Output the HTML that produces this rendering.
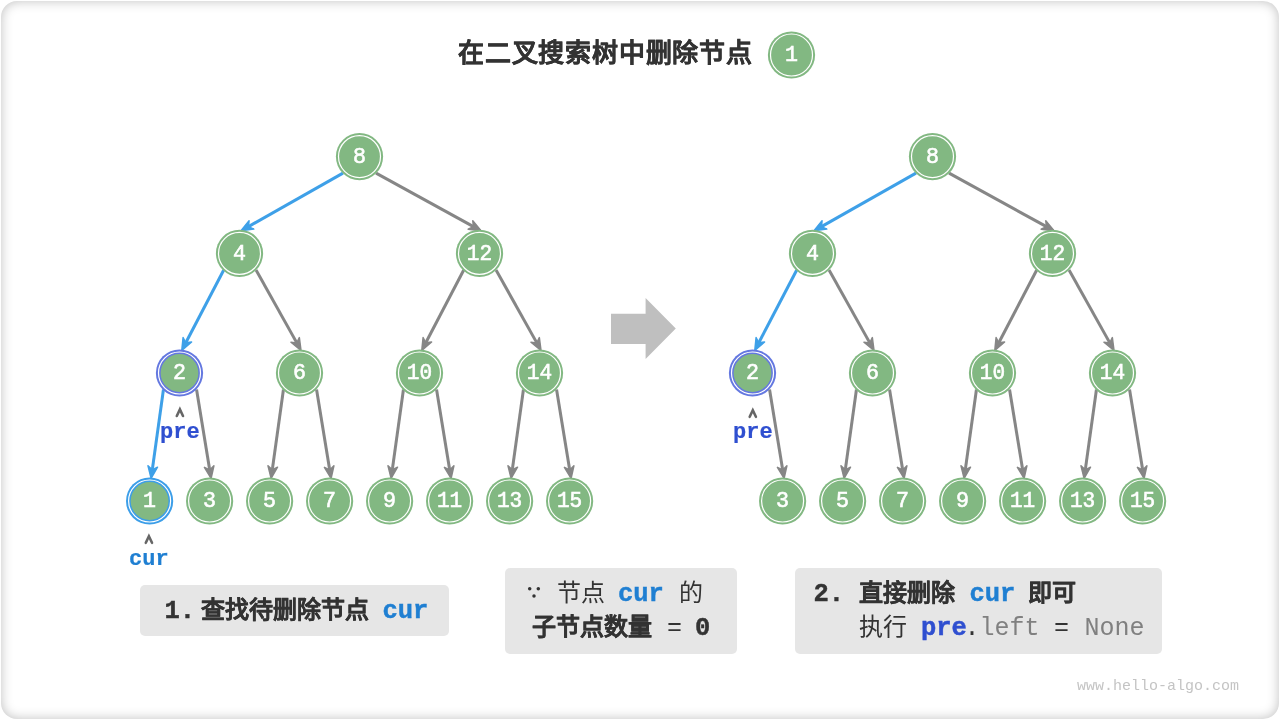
<!DOCTYPE html>
<html lang="zh-CN"><head><meta charset="utf-8"><style>
html,body{margin:0;padding:0;background:#fff;}
body{width:1280px;height:720px;position:relative;overflow:hidden;}
.card{position:absolute;left:1px;top:1px;width:1277.5px;height:717.5px;border-radius:16px;box-shadow:inset 0 0 12px rgba(0,0,0,0.25);background:#fff;}
svg{position:absolute;left:0;top:0;will-change:transform;}
text{white-space:pre;}
.nl{font-family:"Liberation Mono",monospace;font-size:22px;fill:#fff;stroke:#fff;stroke-width:0.6px;text-anchor:middle;}
.mb{font-family:"Liberation Mono",monospace;font-size:25.5px;font-weight:bold;}
.mr{font-family:"Liberation Mono",monospace;font-size:25px;}
.ml{font-family:"Liberation Mono",monospace;font-size:22px;font-weight:bold;}
.wm{font-family:"Liberation Mono",monospace;font-size:15px;}
.cb{font-family:"Liberation Sans",sans-serif;font-size:24px;font-weight:bold;stroke:#333;stroke-width:0.25px;}
.cr{font-family:"Liberation Sans",sans-serif;font-size:24px;}
.title{font-family:"Liberation Sans",sans-serif;font-size:26px;letter-spacing:0.8px;font-weight:bold;stroke:#333;stroke-width:0.3px;}
.box{position:absolute;background:#e6e6e6;border-radius:5px;}
</style></head><body>
<div class="card"></div>
<div class="box" style="left:140px;top:585px;width:309px;height:50.5px"></div>
<div class="box" style="left:505px;top:568px;width:232px;height:85.5px"></div>
<div class="box" style="left:795px;top:568px;width:367px;height:85.5px"></div>
<svg width="1280" height="720" viewBox="0 0 1280 720">
<line x1="342.95" y1="173.15" x2="248.49" y2="226.57" stroke="#3ea0e8" stroke-width="3"/>
<path d="M241.00,230.80 L249.08,220.72 L248.49,226.57 L253.81,229.07 Z" fill="#3ea0e8" stroke="#3ea0e8" stroke-width="1.5" stroke-linejoin="round"/>
<line x1="376.05" y1="173.15" x2="473.46" y2="226.66" stroke="#868686" stroke-width="3"/>
<path d="M481.00,230.80 L468.17,229.23 L473.46,226.66 L472.79,220.82 Z" fill="#868686" stroke="#868686" stroke-width="1.5" stroke-linejoin="round"/>
<line x1="223.75" y1="269.95" x2="185.78" y2="342.77" stroke="#3ea0e8" stroke-width="3"/>
<path d="M181.80,350.40 L183.09,337.54 L185.78,342.77 L191.60,341.98 Z" fill="#3ea0e8" stroke="#3ea0e8" stroke-width="1.5" stroke-linejoin="round"/>
<line x1="256.05" y1="269.95" x2="296.81" y2="342.89" stroke="#868686" stroke-width="3"/>
<path d="M301.00,350.40 L290.96,342.27 L296.81,342.89 L299.34,337.58 Z" fill="#868686" stroke="#868686" stroke-width="1.5" stroke-linejoin="round"/>
<line x1="463.75" y1="269.95" x2="425.78" y2="342.77" stroke="#868686" stroke-width="3"/>
<path d="M421.80,350.40 L423.09,337.54 L425.78,342.77 L431.60,341.98 Z" fill="#868686" stroke="#868686" stroke-width="1.5" stroke-linejoin="round"/>
<line x1="496.05" y1="269.95" x2="536.81" y2="342.89" stroke="#868686" stroke-width="3"/>
<path d="M541.00,350.40 L530.96,342.27 L536.81,342.89 L539.34,337.58 Z" fill="#868686" stroke="#868686" stroke-width="1.5" stroke-linejoin="round"/>
<line x1="163.45" y1="389.55" x2="152.28" y2="469.88" stroke="#3ea0e8" stroke-width="3"/>
<path d="M151.10,478.40 L148.00,465.85 L152.28,469.88 L157.51,467.18 Z" fill="#3ea0e8" stroke="#3ea0e8" stroke-width="1.5" stroke-linejoin="round"/>
<line x1="196.55" y1="389.55" x2="209.71" y2="469.91" stroke="#868686" stroke-width="3"/>
<path d="M211.10,478.40 L204.42,467.33 L209.71,469.91 L213.90,465.78 Z" fill="#868686" stroke="#868686" stroke-width="1.5" stroke-linejoin="round"/>
<line x1="283.45" y1="389.55" x2="272.28" y2="469.88" stroke="#868686" stroke-width="3"/>
<path d="M271.10,478.40 L268.00,465.85 L272.28,469.88 L277.51,467.18 Z" fill="#868686" stroke="#868686" stroke-width="1.5" stroke-linejoin="round"/>
<line x1="316.55" y1="389.55" x2="329.71" y2="469.91" stroke="#868686" stroke-width="3"/>
<path d="M331.10,478.40 L324.42,467.33 L329.71,469.91 L333.90,465.78 Z" fill="#868686" stroke="#868686" stroke-width="1.5" stroke-linejoin="round"/>
<line x1="403.45" y1="389.55" x2="392.28" y2="469.88" stroke="#868686" stroke-width="3"/>
<path d="M391.10,478.40 L388.00,465.85 L392.28,469.88 L397.51,467.18 Z" fill="#868686" stroke="#868686" stroke-width="1.5" stroke-linejoin="round"/>
<line x1="436.55" y1="389.55" x2="449.71" y2="469.91" stroke="#868686" stroke-width="3"/>
<path d="M451.10,478.40 L444.42,467.33 L449.71,469.91 L453.90,465.78 Z" fill="#868686" stroke="#868686" stroke-width="1.5" stroke-linejoin="round"/>
<line x1="523.45" y1="389.55" x2="512.28" y2="469.88" stroke="#868686" stroke-width="3"/>
<path d="M511.10,478.40 L508.00,465.85 L512.28,469.88 L517.51,467.18 Z" fill="#868686" stroke="#868686" stroke-width="1.5" stroke-linejoin="round"/>
<line x1="556.55" y1="389.55" x2="569.71" y2="469.91" stroke="#868686" stroke-width="3"/>
<path d="M571.10,478.40 L564.42,467.33 L569.71,469.91 L573.90,465.78 Z" fill="#868686" stroke="#868686" stroke-width="1.5" stroke-linejoin="round"/>
<circle cx="359.5" cy="156.6" r="23.6" fill="#82b882"/>
<circle cx="359.5" cy="156.6" r="21.0" fill="none" stroke="#fff" stroke-width="1.2"/>
<text x="359.5" y="163.10" class="nl" textLength="13.0" lengthAdjust="spacingAndGlyphs">8</text>
<circle cx="239.5" cy="253.4" r="23.6" fill="#82b882"/>
<circle cx="239.5" cy="253.4" r="21.0" fill="none" stroke="#fff" stroke-width="1.2"/>
<text x="239.5" y="259.90" class="nl" textLength="13.0" lengthAdjust="spacingAndGlyphs">4</text>
<circle cx="479.5" cy="253.4" r="23.6" fill="#82b882"/>
<circle cx="479.5" cy="253.4" r="21.0" fill="none" stroke="#fff" stroke-width="1.2"/>
<text x="479.5" y="259.90" class="nl" textLength="25.3" lengthAdjust="spacingAndGlyphs">12</text>
<circle cx="179.5" cy="373.0" r="23.6" fill="#6478e0"/>
<circle cx="179.5" cy="373.0" r="21.0" fill="none" stroke="#fff" stroke-width="1.2"/>
<circle cx="179.5" cy="373.0" r="18.9" fill="#82b882"/>
<text x="179.5" y="378.90" class="nl" textLength="13.0" lengthAdjust="spacingAndGlyphs">2</text>
<circle cx="299.5" cy="373.0" r="23.6" fill="#82b882"/>
<circle cx="299.5" cy="373.0" r="21.0" fill="none" stroke="#fff" stroke-width="1.2"/>
<text x="299.5" y="378.90" class="nl" textLength="13.0" lengthAdjust="spacingAndGlyphs">6</text>
<circle cx="419.5" cy="373.0" r="23.6" fill="#82b882"/>
<circle cx="419.5" cy="373.0" r="21.0" fill="none" stroke="#fff" stroke-width="1.2"/>
<text x="419.5" y="378.90" class="nl" textLength="25.3" lengthAdjust="spacingAndGlyphs">10</text>
<circle cx="539.5" cy="373.0" r="23.6" fill="#82b882"/>
<circle cx="539.5" cy="373.0" r="21.0" fill="none" stroke="#fff" stroke-width="1.2"/>
<text x="539.5" y="378.90" class="nl" textLength="25.3" lengthAdjust="spacingAndGlyphs">14</text>
<circle cx="149.6" cy="501.0" r="23.6" fill="#3c9ee8"/>
<circle cx="149.6" cy="501.0" r="21.0" fill="none" stroke="#fff" stroke-width="1.2"/>
<circle cx="149.6" cy="501.0" r="18.9" fill="#82b882"/>
<text x="149.6" y="506.90" class="nl" textLength="13.0" lengthAdjust="spacingAndGlyphs">1</text>
<circle cx="209.6" cy="501.0" r="23.6" fill="#82b882"/>
<circle cx="209.6" cy="501.0" r="21.0" fill="none" stroke="#fff" stroke-width="1.2"/>
<text x="209.6" y="506.90" class="nl" textLength="13.0" lengthAdjust="spacingAndGlyphs">3</text>
<circle cx="269.6" cy="501.0" r="23.6" fill="#82b882"/>
<circle cx="269.6" cy="501.0" r="21.0" fill="none" stroke="#fff" stroke-width="1.2"/>
<text x="269.6" y="506.90" class="nl" textLength="13.0" lengthAdjust="spacingAndGlyphs">5</text>
<circle cx="329.6" cy="501.0" r="23.6" fill="#82b882"/>
<circle cx="329.6" cy="501.0" r="21.0" fill="none" stroke="#fff" stroke-width="1.2"/>
<text x="329.6" y="506.90" class="nl" textLength="13.0" lengthAdjust="spacingAndGlyphs">7</text>
<circle cx="389.6" cy="501.0" r="23.6" fill="#82b882"/>
<circle cx="389.6" cy="501.0" r="21.0" fill="none" stroke="#fff" stroke-width="1.2"/>
<text x="389.6" y="506.90" class="nl" textLength="13.0" lengthAdjust="spacingAndGlyphs">9</text>
<circle cx="449.6" cy="501.0" r="23.6" fill="#82b882"/>
<circle cx="449.6" cy="501.0" r="21.0" fill="none" stroke="#fff" stroke-width="1.2"/>
<text x="449.6" y="506.90" class="nl" textLength="25.3" lengthAdjust="spacingAndGlyphs">11</text>
<circle cx="509.6" cy="501.0" r="23.6" fill="#82b882"/>
<circle cx="509.6" cy="501.0" r="21.0" fill="none" stroke="#fff" stroke-width="1.2"/>
<text x="509.6" y="506.90" class="nl" textLength="25.3" lengthAdjust="spacingAndGlyphs">13</text>
<circle cx="569.6" cy="501.0" r="23.6" fill="#82b882"/>
<circle cx="569.6" cy="501.0" r="21.0" fill="none" stroke="#fff" stroke-width="1.2"/>
<text x="569.6" y="506.90" class="nl" textLength="25.3" lengthAdjust="spacingAndGlyphs">15</text>
<line x1="915.95" y1="173.15" x2="821.49" y2="226.57" stroke="#3ea0e8" stroke-width="3"/>
<path d="M814.00,230.80 L822.08,220.72 L821.49,226.57 L826.81,229.07 Z" fill="#3ea0e8" stroke="#3ea0e8" stroke-width="1.5" stroke-linejoin="round"/>
<line x1="949.05" y1="173.15" x2="1046.46" y2="226.66" stroke="#868686" stroke-width="3"/>
<path d="M1054.00,230.80 L1041.17,229.23 L1046.46,226.66 L1045.79,220.82 Z" fill="#868686" stroke="#868686" stroke-width="1.5" stroke-linejoin="round"/>
<line x1="796.75" y1="269.95" x2="758.78" y2="342.77" stroke="#3ea0e8" stroke-width="3"/>
<path d="M754.80,350.40 L756.09,337.54 L758.78,342.77 L764.60,341.98 Z" fill="#3ea0e8" stroke="#3ea0e8" stroke-width="1.5" stroke-linejoin="round"/>
<line x1="829.05" y1="269.95" x2="869.81" y2="342.89" stroke="#868686" stroke-width="3"/>
<path d="M874.00,350.40 L863.96,342.27 L869.81,342.89 L872.34,337.58 Z" fill="#868686" stroke="#868686" stroke-width="1.5" stroke-linejoin="round"/>
<line x1="1036.75" y1="269.95" x2="998.78" y2="342.77" stroke="#868686" stroke-width="3"/>
<path d="M994.80,350.40 L996.09,337.54 L998.78,342.77 L1004.60,341.98 Z" fill="#868686" stroke="#868686" stroke-width="1.5" stroke-linejoin="round"/>
<line x1="1069.05" y1="269.95" x2="1109.81" y2="342.89" stroke="#868686" stroke-width="3"/>
<path d="M1114.00,350.40 L1103.96,342.27 L1109.81,342.89 L1112.34,337.58 Z" fill="#868686" stroke="#868686" stroke-width="1.5" stroke-linejoin="round"/>
<line x1="769.55" y1="389.55" x2="782.71" y2="469.91" stroke="#868686" stroke-width="3"/>
<path d="M784.10,478.40 L777.42,467.33 L782.71,469.91 L786.90,465.78 Z" fill="#868686" stroke="#868686" stroke-width="1.5" stroke-linejoin="round"/>
<line x1="856.45" y1="389.55" x2="845.28" y2="469.88" stroke="#868686" stroke-width="3"/>
<path d="M844.10,478.40 L841.00,465.85 L845.28,469.88 L850.51,467.18 Z" fill="#868686" stroke="#868686" stroke-width="1.5" stroke-linejoin="round"/>
<line x1="889.55" y1="389.55" x2="902.71" y2="469.91" stroke="#868686" stroke-width="3"/>
<path d="M904.10,478.40 L897.42,467.33 L902.71,469.91 L906.90,465.78 Z" fill="#868686" stroke="#868686" stroke-width="1.5" stroke-linejoin="round"/>
<line x1="976.45" y1="389.55" x2="965.28" y2="469.88" stroke="#868686" stroke-width="3"/>
<path d="M964.10,478.40 L961.00,465.85 L965.28,469.88 L970.51,467.18 Z" fill="#868686" stroke="#868686" stroke-width="1.5" stroke-linejoin="round"/>
<line x1="1009.55" y1="389.55" x2="1022.71" y2="469.91" stroke="#868686" stroke-width="3"/>
<path d="M1024.10,478.40 L1017.42,467.33 L1022.71,469.91 L1026.90,465.78 Z" fill="#868686" stroke="#868686" stroke-width="1.5" stroke-linejoin="round"/>
<line x1="1096.45" y1="389.55" x2="1085.28" y2="469.88" stroke="#868686" stroke-width="3"/>
<path d="M1084.10,478.40 L1081.00,465.85 L1085.28,469.88 L1090.51,467.18 Z" fill="#868686" stroke="#868686" stroke-width="1.5" stroke-linejoin="round"/>
<line x1="1129.55" y1="389.55" x2="1142.71" y2="469.91" stroke="#868686" stroke-width="3"/>
<path d="M1144.10,478.40 L1137.42,467.33 L1142.71,469.91 L1146.90,465.78 Z" fill="#868686" stroke="#868686" stroke-width="1.5" stroke-linejoin="round"/>
<circle cx="932.5" cy="156.6" r="23.6" fill="#82b882"/>
<circle cx="932.5" cy="156.6" r="21.0" fill="none" stroke="#fff" stroke-width="1.2"/>
<text x="932.5" y="163.10" class="nl" textLength="13.0" lengthAdjust="spacingAndGlyphs">8</text>
<circle cx="812.5" cy="253.4" r="23.6" fill="#82b882"/>
<circle cx="812.5" cy="253.4" r="21.0" fill="none" stroke="#fff" stroke-width="1.2"/>
<text x="812.5" y="259.90" class="nl" textLength="13.0" lengthAdjust="spacingAndGlyphs">4</text>
<circle cx="1052.5" cy="253.4" r="23.6" fill="#82b882"/>
<circle cx="1052.5" cy="253.4" r="21.0" fill="none" stroke="#fff" stroke-width="1.2"/>
<text x="1052.5" y="259.90" class="nl" textLength="25.3" lengthAdjust="spacingAndGlyphs">12</text>
<circle cx="752.5" cy="373.0" r="23.6" fill="#6478e0"/>
<circle cx="752.5" cy="373.0" r="21.0" fill="none" stroke="#fff" stroke-width="1.2"/>
<circle cx="752.5" cy="373.0" r="18.9" fill="#82b882"/>
<text x="752.5" y="378.90" class="nl" textLength="13.0" lengthAdjust="spacingAndGlyphs">2</text>
<circle cx="872.5" cy="373.0" r="23.6" fill="#82b882"/>
<circle cx="872.5" cy="373.0" r="21.0" fill="none" stroke="#fff" stroke-width="1.2"/>
<text x="872.5" y="378.90" class="nl" textLength="13.0" lengthAdjust="spacingAndGlyphs">6</text>
<circle cx="992.5" cy="373.0" r="23.6" fill="#82b882"/>
<circle cx="992.5" cy="373.0" r="21.0" fill="none" stroke="#fff" stroke-width="1.2"/>
<text x="992.5" y="378.90" class="nl" textLength="25.3" lengthAdjust="spacingAndGlyphs">10</text>
<circle cx="1112.5" cy="373.0" r="23.6" fill="#82b882"/>
<circle cx="1112.5" cy="373.0" r="21.0" fill="none" stroke="#fff" stroke-width="1.2"/>
<text x="1112.5" y="378.90" class="nl" textLength="25.3" lengthAdjust="spacingAndGlyphs">14</text>
<circle cx="782.6" cy="501.0" r="23.6" fill="#82b882"/>
<circle cx="782.6" cy="501.0" r="21.0" fill="none" stroke="#fff" stroke-width="1.2"/>
<text x="782.6" y="506.90" class="nl" textLength="13.0" lengthAdjust="spacingAndGlyphs">3</text>
<circle cx="842.6" cy="501.0" r="23.6" fill="#82b882"/>
<circle cx="842.6" cy="501.0" r="21.0" fill="none" stroke="#fff" stroke-width="1.2"/>
<text x="842.6" y="506.90" class="nl" textLength="13.0" lengthAdjust="spacingAndGlyphs">5</text>
<circle cx="902.6" cy="501.0" r="23.6" fill="#82b882"/>
<circle cx="902.6" cy="501.0" r="21.0" fill="none" stroke="#fff" stroke-width="1.2"/>
<text x="902.6" y="506.90" class="nl" textLength="13.0" lengthAdjust="spacingAndGlyphs">7</text>
<circle cx="962.6" cy="501.0" r="23.6" fill="#82b882"/>
<circle cx="962.6" cy="501.0" r="21.0" fill="none" stroke="#fff" stroke-width="1.2"/>
<text x="962.6" y="506.90" class="nl" textLength="13.0" lengthAdjust="spacingAndGlyphs">9</text>
<circle cx="1022.6" cy="501.0" r="23.6" fill="#82b882"/>
<circle cx="1022.6" cy="501.0" r="21.0" fill="none" stroke="#fff" stroke-width="1.2"/>
<text x="1022.6" y="506.90" class="nl" textLength="25.3" lengthAdjust="spacingAndGlyphs">11</text>
<circle cx="1082.6" cy="501.0" r="23.6" fill="#82b882"/>
<circle cx="1082.6" cy="501.0" r="21.0" fill="none" stroke="#fff" stroke-width="1.2"/>
<text x="1082.6" y="506.90" class="nl" textLength="25.3" lengthAdjust="spacingAndGlyphs">13</text>
<circle cx="1142.6" cy="501.0" r="23.6" fill="#82b882"/>
<circle cx="1142.6" cy="501.0" r="21.0" fill="none" stroke="#fff" stroke-width="1.2"/>
<text x="1142.6" y="506.90" class="nl" textLength="25.3" lengthAdjust="spacingAndGlyphs">15</text>
<path d="M176.80,416.00 L179.90,409.40 L183.00,416.00" fill="none" stroke="#666" stroke-width="2.6" stroke-linejoin="miter" stroke-linecap="round"/>
<path d="M145.80,542.80 L148.90,536.20 L152.00,542.80" fill="none" stroke="#666" stroke-width="2.6" stroke-linejoin="miter" stroke-linecap="round"/>
<path d="M749.70,416.80 L752.80,410.20 L755.90,416.80" fill="none" stroke="#666" stroke-width="2.6" stroke-linejoin="miter" stroke-linecap="round"/>
<path d="M611,313.8 L645.6,313.8 L645.6,298 L675.8,328.5 L645.6,358.9 L645.6,343.9 L611,343.9 Z" fill="#bfbfbf"/>
<circle cx="791.5" cy="55" r="23.6" fill="#82b882"/>
<circle cx="791.5" cy="55" r="21.0" fill="none" stroke="#fff" stroke-width="1.2"/>
<text x="791.5" y="60.60" class="nl" textLength="13.0" lengthAdjust="spacingAndGlyphs">1</text>
<text x="164.5" y="617.8" class="mb" fill="#333333" stroke="#333333" stroke-width="0.45">1.</text>
<text x="200.6" y="617.8" class="cb" fill="#333333" >查找待删除节点</text>
<text x="382.5" y="617.8" class="mb" fill="#1f7fd2" stroke="#1f7fd2" stroke-width="0.45">cur</text>
<circle cx="529.7" cy="588.7" r="1.75" fill="#333"/><circle cx="538.3" cy="588.7" r="1.75" fill="#333"/><circle cx="534" cy="596" r="1.75" fill="#333"/>
<text x="556.5" y="600.9" class="cr" fill="#333333" >节点</text>
<text x="618" y="600.9" class="mb" fill="#1f7fd2" stroke="#1f7fd2" stroke-width="0.45">cur</text>
<text x="679" y="600.9" class="cr" fill="#333333" >的</text>
<text x="532" y="635.0" class="cb" fill="#333333" >子节点数量</text>
<text x="667" y="635.0" class="mr" fill="#333333" >=</text>
<text x="695" y="635.0" class="mb" fill="#333333" stroke="#333333" stroke-width="0.45">0</text>
<text x="813.5" y="601.25" class="mb" fill="#333333" stroke="#333333" stroke-width="0.45">2.</text>
<text x="859" y="601.25" class="cb" fill="#333333" >直接删除</text>
<text x="969.5" y="601.25" class="mb" fill="#1f7fd2" stroke="#1f7fd2" stroke-width="0.45">cur</text>
<text x="1028" y="601.25" class="cb" fill="#333333" >即可</text>
<text x="859" y="635.3" class="cr" fill="#333333" >执行</text>
<text x="921" y="635.3" class="mb" fill="#2f4fd0" stroke="#2f4fd0" stroke-width="0.45">pre</text>
<text x="964.5" y="635.3" class="mr" fill="#333333" >.</text>
<text x="979.5" y="635.3" class="mr" fill="#808080" >left</text>
<text x="1054" y="635.3" class="mr" fill="#333333" >=</text>
<text x="1084.5" y="635.3" class="mr" fill="#808080" >None</text>
<text x="160" y="438.2" class="ml" fill="#2f4fd0" stroke="#2f4fd0" stroke-width="0.2">pre</text>
<text x="129" y="564.9" class="ml" fill="#1f7fd2" stroke="#1f7fd2" stroke-width="0.2">cur</text>
<text x="733" y="438.0" class="ml" fill="#2f4fd0" stroke="#2f4fd0" stroke-width="0.2">pre</text>
<text x="1077" y="690" class="wm" fill="#c4c4c4" >www.hello-algo.com</text>
<text x="458" y="62.4" class="title" fill="#333333" >在二叉搜索树中删除节点</text>
</svg>
</body></html>
